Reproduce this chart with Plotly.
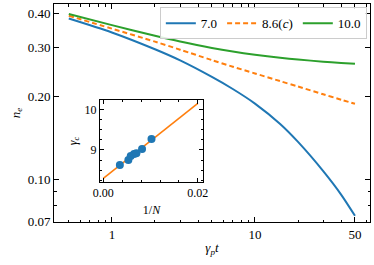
import plotly.graph_objects as go

# ---- main panel data ----
t = [0.5, 1, 2, 3, 5, 7, 10, 15, 20, 30, 40, 50]
n_70 = [0.382, 0.340, 0.2955, 0.2693, 0.2346, 0.2121, 0.1878, 0.1584, 0.1364, 0.1069, 0.0879, 0.0736]
n_86 = [0.391, 0.351, 0.315, 0.2945, 0.270, 0.2555, 0.2415, 0.2265, 0.2165, 0.2030, 0.1940, 0.1875]
n_100 = [0.397, 0.3615, 0.3309, 0.3153, 0.2988, 0.2900, 0.2824, 0.2754, 0.2713, 0.2665, 0.2637, 0.2618]
series_names = ["7.0", "8.6(<i>c</i>)", "10.0"]

y_ticks = [0.07, 0.10, 0.20, 0.30, 0.40]
y_ticklabels = ["0.07", "0.10", "0.20", "0.30", "0.40"]
x_ticks = [1, 10, 50]
x_ticklabels = ["1", "10", "50"]

# ---- inset data ----
invN = [0.0035, 0.0053, 0.0058, 0.0065, 0.0070, 0.0082, 0.0102]
gamma_c = [8.63, 8.75, 8.85, 8.90, 8.92, 9.02, 9.27]
fit_x = [0.0, 0.02]
fit_y = [8.30, 10.15]
inset_xticks = [0.00, 0.02]
inset_xticklabels = ["0.00", "0.02"]
inset_yticks = [9, 10]

BLUE, ORANGE, GREEN = "#1f77b4", "#ff7f0e", "#2ca02c"
FONT = "'Liberation Serif', 'Times New Roman', serif"

fig = go.Figure()
fig.add_trace(go.Scatter(x=t, y=n_70, mode="lines", name=series_names[0],
                         line=dict(color=BLUE, width=2, shape="spline", smoothing=0.8)))
fig.add_trace(go.Scatter(x=t, y=n_86, mode="lines", name=series_names[1],
                         line=dict(color=ORANGE, width=2, dash="5px,3px", shape="spline", smoothing=0.8)))
fig.add_trace(go.Scatter(x=t, y=n_100, mode="lines", name=series_names[2],
                         line=dict(color=GREEN, width=2, shape="spline", smoothing=0.8)))

fig.add_trace(go.Scatter(x=fit_x, y=fit_y, mode="lines", showlegend=False,
                         line=dict(color=ORANGE, width=1.6), xaxis="x2", yaxis="y2"))
fig.add_trace(go.Scatter(x=invN, y=gamma_c, mode="markers", showlegend=False,
                         marker=dict(color=BLUE, size=8), xaxis="x2", yaxis="y2"))

x_minor = [0.4, 0.5, 0.6, 0.7, 0.8, 0.9, 2, 3, 4, 5, 6, 7, 8, 9, 20, 30, 40, 60]
y_minor = [0.08, 0.09]

axis_common = dict(showline=True, linecolor="black", linewidth=1, mirror="ticks",
                   ticks="inside", tickcolor="black", tickwidth=1, showgrid=False,
                   zeroline=False, automargin=False)

fig.update_layout(
    width=374, height=265,
    margin=dict(l=54, r=4, t=4, b=43),
    paper_bgcolor="white", plot_bgcolor="white",
    font=dict(family=FONT, size=13, color="black"),
    showlegend=True,
    legend=dict(orientation="h", x=0.99, y=0.985, xanchor="right", yanchor="top",
                bgcolor="rgba(255,255,255,0.85)", bordercolor="#cccccc", borderwidth=1,
                font=dict(family=FONT, size=13), itemwidth=30,
                tracegroupgap=0),
    xaxis=dict(type="log", range=[-0.4045, 1.804], tickvals=x_ticks, ticktext=x_ticklabels,
               ticklen=5, tickfont=dict(family=FONT, size=13),
               minor=dict(tickvals=x_minor, ticks="inside", ticklen=2.5, tickcolor="black",
                          showgrid=False),
               title=dict(text="<i>γ</i><sub><i>p</i></sub><i>t</i>", standoff=2,
                          font=dict(family=FONT, size=13)),
               **axis_common),
    yaxis=dict(type="log", range=[-1.1555, -0.3653], tickvals=y_ticks, ticktext=y_ticklabels,
               ticklen=5, tickfont=dict(family=FONT, size=13),
               minor=dict(tickvals=y_minor, ticks="inside", ticklen=2.5, tickcolor="black",
                          showgrid=False),
               title=dict(text="<i>n</i><sub><i>e</i></sub>", standoff=4,
                          font=dict(family=FONT, size=13)),
               **axis_common),
    xaxis2=dict(domain=[0.1456, 0.4715], anchor="y2", range=[-0.0007, 0.0211],
                tickvals=inset_xticks, ticktext=inset_xticklabels, ticklen=4,
                minor=dict(dtick=0.004, tick0=0, ticks="inside", ticklen=2, tickcolor="black",
                           showgrid=False),
                title=dict(text="1/<i>N</i>", standoff=6, font=dict(family=FONT, size=12)),
                tickfont=dict(family=FONT, size=12),
                **axis_common),
    yaxis2=dict(domain=[0.1835, 0.5596], anchor="x2", range=[8.21, 10.23],
                tickvals=inset_yticks, ticklen=4,
                minor=dict(dtick=0.25, tick0=0, ticks="inside", ticklen=2, tickcolor="black",
                           showgrid=False),
                title=dict(text="<i>γ</i><sub><i>c</i></sub>", standoff=4,
                           font=dict(family=FONT, size=12)),
                tickfont=dict(family=FONT, size=12),
                **axis_common),
)

fig.write_html("out.html",
               config={"displayModeBar": False},
               post_script="document.body.style.margin='0';document.body.style.overflow='hidden';")
